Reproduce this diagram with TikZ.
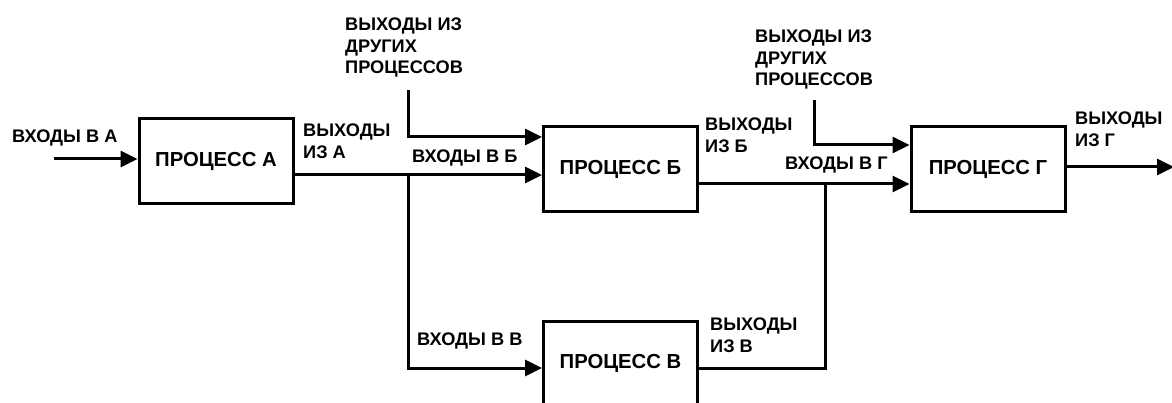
\documentclass[tikz,border=0pt]{standalone}
\usepackage{fontspec}
\setmainfont{Liberation Sans}
\usetikzlibrary{arrows.meta}
\begin{document}
\begin{tikzpicture}[x=1pt,y=-1pt,
  proc/.style={draw,line width=3pt,minimum width=154pt,minimum height=85pt,inner sep=0pt,
    font=\bfseries\fontsize{20.3}{24}\selectfont},
  lbl/.style={anchor=north west,inner sep=0pt,align=left,
    font=\bfseries\fontsize{18.2}{21.5}\selectfont},
  ln/.style={line width=3pt},
  arr/.style={line width=3pt,-{Triangle[length=17pt,width=16pt]}}]
\fill[white] (0,0) rectangle (1172,403);
\useasboundingbox (0,0) rectangle (1172,403);

% process boxes
\node[proc] (A) at (216,161.5) {\raisebox{4pt}{ПРОЦЕСС А}};
\node[proc] (B) at (620.5,169.5) {ПРОЦЕСС Б};
\node[proc] (C) at (620.5,363.5) {ПРОЦЕСС В};
\node[proc] (G) at (988,169.5) {ПРОЦЕСС Г};

% coordinates
\coordinate (inA) at (54,159);
\coordinate (brA) at (408,175);
\coordinate (othB) at (408,90);
\coordinate (othBk) at (408,137);
\coordinate (inC) at (408,368);
\coordinate (brG) at (825,184);
\coordinate (outC) at (825,368);
\coordinate (othG) at (814,100);
\coordinate (othGk) at (814,145);
\coordinate (outG) at (1174,167);

% connectors
\draw[arr] (inA) -- (inA -| A.west);
\draw[ln] (brA -| A.east) -- (brA);
\draw[arr] (brA) -- (brA -| B.west);
\draw[arr] (othB) -- (othBk) -- (othBk -| B.west);
\draw[arr] (brA) -- (inC) -- (inC -| C.west);
\draw[ln] (brG -| B.east) -- (brG);
\draw[arr] (brG) -- (brG -| G.west);
\draw[ln] (outC -| C.east) -- (outC) -- (brG);
\draw[arr] (othG) -- (othGk) -- (othGk -| G.west);
\draw[arr] (outG -| G.east) -- (outG);

% labels
\node[lbl] (tinA) at (12,130) {ВХОДЫ В А};
\node[lbl] (toutA) at (303,124) {ВЫХОДЫ\\ИЗ А};
\node[lbl] (tothB) at (345,18) {ВЫХОДЫ ИЗ\\ДРУГИХ\\ПРОЦЕССОВ};
\node[lbl] (tinB) at (412,150) {ВХОДЫ В Б};
\node[lbl] (toutB) at (705,118) {ВЫХОДЫ\\ИЗ Б};
\node[lbl] (tothG) at (755,30) {ВЫХОДЫ ИЗ\\ДРУГИХ\\ПРОЦЕССОВ};
\node[lbl] (toutG) at (1075,112) {ВЫХОДЫ\\ИЗ Г};
\node[lbl] (tinG) at (785,157) {ВХОДЫ В Г};
\node[lbl] (tinC) at (417,333) {ВХОДЫ В В};
\node[lbl] (toutC) at (710,318) {ВЫХОДЫ\\ИЗ В};
\end{tikzpicture}
\end{document}
